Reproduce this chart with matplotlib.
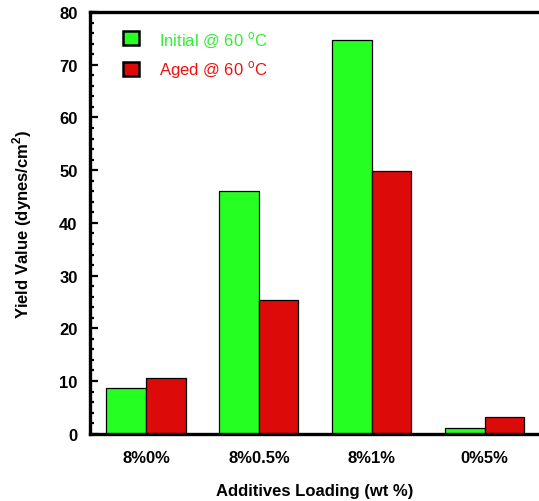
import numpy as np
import matplotlib
matplotlib.use("Agg")
import matplotlib.pyplot as plt

plt.rcParams["font.family"] = ["Liberation Sans", "DejaVu Sans"]
plt.rcParams["mathtext.fontset"] = "custom"
plt.rcParams["mathtext.rm"] = "Liberation Sans"
plt.rcParams["mathtext.bf"] = "Liberation Sans:bold"

categories = ["8%0%", "8%0.5%", "8%1%", "0%5%"]
initial = [8.7, 46.1, 74.7, 1.0]
aged = [10.6, 25.3, 49.9, 3.2]
series_labels = ["Initial @ 60 $^\\mathrm{o}$C", "Aged @ 60 $^\\mathrm{o}$C"]

GREEN = "#26ff22"
RED = "#dd0a0a"

fig = plt.figure(figsize=(5.39, 5.02), dpi=100)
ax = fig.add_axes([0.167, 0.134, 0.833, 0.840])

x = np.arange(len(categories))
w = 0.35
ax.bar(x - w / 2, initial, w, color=GREEN, edgecolor="black", linewidth=0.9, label=series_labels[0])
ax.bar(x + w / 2, aged, w, color=RED, edgecolor="black", linewidth=0.9, label=series_labels[1])

ax.set_xlim(-0.496, 3.48)
ax.set_ylim(0, 80)
ax.set_xticks(x)
ax.set_xticklabels(categories, fontsize=12, fontweight="bold")
ax.tick_params(axis="x", length=0, pad=12)
ax.set_yticks(np.arange(0, 81, 10))
ax.set_yticks(np.arange(0, 81, 2), minor=True)
ax.tick_params(axis="y", which="major", direction="in", length=5.5, width=1.6, labelsize=12, pad=9)
ax.tick_params(axis="y", which="minor", direction="in", length=3, width=1.6)
for t in ax.get_yticklabels():
    t.set_fontweight("bold")

ax.spines["right"].set_visible(False)
for s in ["left", "top", "bottom"]:
    ax.spines[s].set_linewidth(2.4)
    ax.spines[s].set_clip_on(False)

ax.set_xlabel("Additives Loading (wt %)", fontsize=12, fontweight="bold", labelpad=13)
ax.set_ylabel("Yield Value (dynes/cm$^\\mathbf{2}$)", fontsize=12, fontweight="bold", labelpad=18)

leg = ax.legend(loc="upper left", bbox_to_anchor=(0.04, 0.996), frameon=False, fontsize=12,
                handlelength=0.95, handleheight=0.95, handletextpad=1.2, labelspacing=0.6)
for t, c in zip(leg.get_texts(), ["#33ee33", "#ee1111"]):
    t.set_color(c)
for h in leg.legend_handles:
    h.set_linewidth(1.8)

fig.savefig("out.png", dpi=100)
